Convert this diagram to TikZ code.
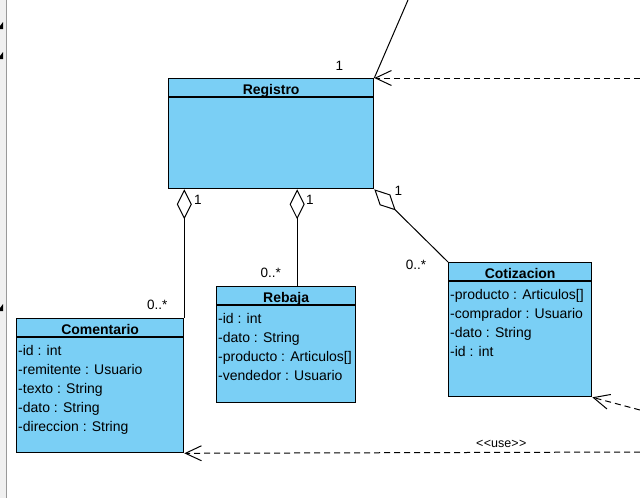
\documentclass[tikz,border=0pt]{standalone}
\usepackage{fontspec}
\setmainfont{Liberation Sans}
\usepackage{tikz}
\usetikzlibrary{positioning}
\usetikzlibrary{calc}
\usetikzlibrary{arrows.meta}
\definecolor{umlblue}{RGB}{122,207,245}
\tikzset{
  classbox/.style={draw, line width=1.3pt, fill=umlblue, inner sep=0pt, anchor=north west},
  classname/.style={font=\fontsize{14}{17}\selectfont\bfseries, inner sep=0pt, anchor=base},
  attr/.style={font=\fontsize{14}{17}\selectfont, inner sep=0pt, anchor=base west},
  mult/.style={font=\fontsize{13.5}{16}\selectfont, inner sep=0pt},
  aggr/.style={line width=1pt, {Diamond[length=30pt,width=15pt,fill=white]}-},
  dep/.style={line width=1pt, dash pattern=on 6pt off 4pt, -{Straight Barb[length=16pt,width=15pt]}}
}
\begin{document}
\begin{tikzpicture}[x=1pt,y=-1pt]
\useasboundingbox (0,0) rectangle (640,498);
% left margin of the window
\fill[black!6] (0,0) rectangle (6,498);
\draw[black!40] (6.5,0) -- (6.5,498);
\fill (0,26) -- (3,22) -- (3,29) -- (0,29) -- cycle;
\fill (0,56) -- (3,52) -- (3,59) -- (0,59) -- cycle;
\fill (0,308) -- (3,304) -- (3,311) -- (0,311) -- cycle;
% Registro
\node[classbox, minimum width=205pt, minimum height=110pt] (reg) at (168,78) {};
\draw[line width=1.3pt] ($(reg.north west)+(0,19)$) -- ($(reg.north east)+(0,19)$);
\node[classname] (regname) at ($(reg.north)+(0,16)$) {Registro};
% Comentario
\node[classbox, minimum width=167pt, minimum height=134pt] (com) at (16,318) {};
\draw[line width=1.3pt] ($(com.north west)+(0,19)$) -- ($(com.north east)+(0,19)$);
\node[classname] (comname) at ($(com.north)+(0,16)$) {Comentario};
\foreach \t [count=\i from 0] in {{-id : int},{-remitente : Usuario},{-texto : String},{-dato : String},{-direccion : String}}
  \node[attr] (com-a\i) at ($(com.north west)+(2,37.5+18.9*\i)$) {\t};
% Rebaja
\node[classbox, minimum width=139pt, minimum height=116pt] (reb) at (216,286) {};
\draw[line width=1.3pt] ($(reb.north west)+(0,19)$) -- ($(reb.north east)+(0,19)$);
\node[classname] (rebname) at ($(reb.north)+(0,16)$) {Rebaja};
\foreach \t [count=\i from 0] in {{-id : int},{-dato : String},{-producto : Articulos[]},{-vendedor : Usuario}}
  \node[attr] (reb-a\i) at ($(reb.north west)+(2,37.5+18.9*\i)$) {\t};
% Cotizacion
\node[classbox, minimum width=143pt, minimum height=134pt] (cot) at (448,262) {};
\draw[line width=1.3pt] ($(cot.north west)+(0,19)$) -- ($(cot.north east)+(0,19)$);
\node[classname] (cotname) at ($(cot.north)+(0,16)$) {Cotizacion};
\foreach \t [count=\i from 0] in {{-producto : Articulos[]},{-comprador : Usuario},{-dato : String},{-id : int}}
  \node[attr] (cot-a\i) at ($(cot.north west)+(2,37.5+18.9*\i)$) {\t};
% connectors
\coordinate (topend) at (408,0);
\coordinate (rtop) at (640,78);
\coordinate (rmid) at (640,410);
\coordinate (rbot) at (640,452);
\coordinate (rebtop) at ($(reb.north)+(11,0)$);
\draw[line width=1pt] (topend) -- (reg.north east);
\draw[dep] (rtop) -- (reg.north east);
\draw[dep] (rmid) -- (cot.south east);
\draw[dep] (rbot) -- (com.south east);
\draw[aggr] (com.north east |- reg.south) -- (com.north east);
\draw[aggr] (rebtop |- reg.south) -- (rebtop);
\draw[aggr] (reg.south east) -- (cot.north west);
% multiplicities
\node[mult] (m1) at ($(reg.north east)+(-35,-12)$) {1};
\node[mult] (m2) at ($(reg.south west)+(30,11)$) {1};
\node[mult] (m3) at ($(com.north east)+(-27,-13)$) {0..*};
\node[mult] (m4) at ($(reg.south west)+(142,11)$) {1};
\node[mult] (m5) at ($(reb.north)+(-15.5,-13)$) {0..*};
\node[mult] (m6) at ($(reg.south east)+(24,2)$) {1};
\node[mult] (m7) at ($(cot.north west)+(-32,3)$) {0..*};
\node[mult, font=\fontsize{12.5}{15}\selectfont] (use) at ($(com.south east)+(317,-9)$) {\textless\kern0.5pt\textless use\textgreater\kern0.5pt\textgreater};
\end{tikzpicture}
\end{document}
